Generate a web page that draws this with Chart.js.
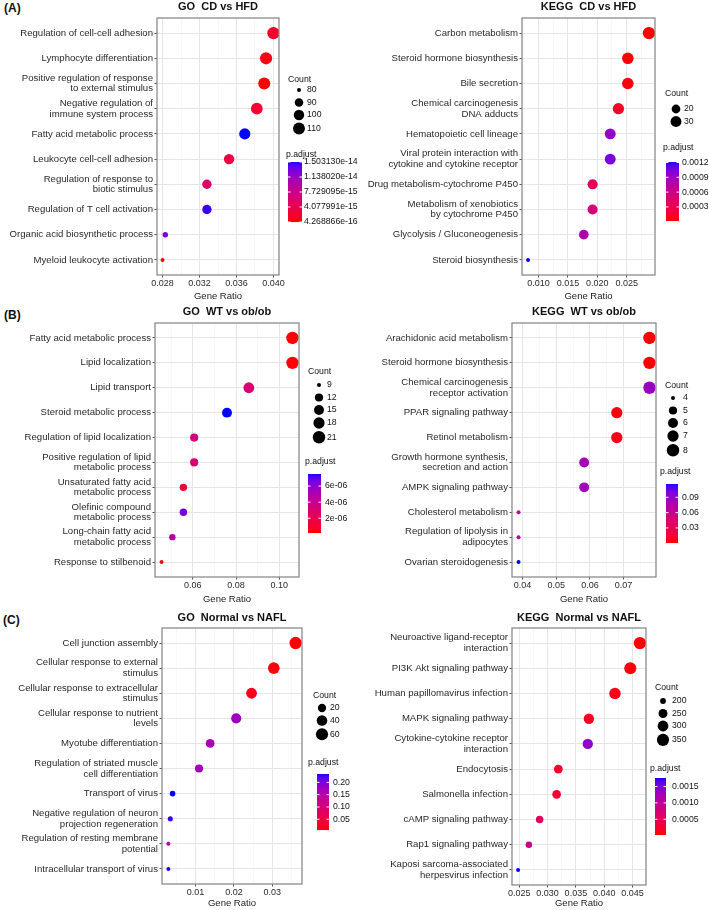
<!DOCTYPE html>
<html>
<head>
<meta charset="utf-8">
<title>GO / KEGG dot plots</title>
<script src="https://cdn.jsdelivr.net/npm/chart.js@4.4.1/dist/chart.umd.min.js"></script>
<style>
    html, body { margin: 0; padding: 0; background: #fff; }
    #page { position: relative; width: 709px; height: 910px; overflow: hidden; font-family: 'Liberation Sans', Arial, sans-serif; }
    #page canvas { position: absolute; }
    .tag { position: absolute; font-weight: bold; font-size: 12px; line-height: 14px; color: #111; }
</style>
</head>
<body>
<div id="page">
    <div class="tag" style="left:4px;top:1px">(A)</div>
    <div class="tag" style="left:4px;top:308px">(B)</div>
    <div class="tag" style="left:3px;top:613px">(C)</div>
    <canvas id="aGo" width="368" height="303" style="left:0;top:0"></canvas>
    <canvas id="aKegg" width="355" height="303" style="left:354px;top:0"></canvas>
    <canvas id="bGo" width="368" height="302" style="left:0;top:303px"></canvas>
    <canvas id="bKegg" width="355" height="302" style="left:354px;top:303px"></canvas>
    <canvas id="cGo" width="368" height="305" style="left:0;top:605px"></canvas>
    <canvas id="cKegg" width="355" height="305" style="left:354px;top:605px"></canvas>
</div>
<script>
// ---- Data ----

// (A) GO  CD vs HFD
const aGoTerms = ['Regulation of cell-cell adhesion', 'Lymphocyte differentiation',
    ['Positive regulation of response', 'to external stimulus'], ['Negative regulation of', 'immune system process'],
    'Fatty acid metabolic process', 'Leukocyte cell-cell adhesion', ['Regulation of response to', 'biotic stimulus'],
    'Regulation of T cell activation', 'Organic acid biosynthetic process', 'Myeloid leukocyte activation'];
const aGoRatio = [0.0400, 0.0392, 0.0390, 0.0382, 0.0369, 0.0352, 0.0328, 0.0328, 0.0283, 0.0280];
const aGoCount = [114, 112, 111, 109, 105, 100, 94, 94, 81, 80];
const aGoPadj = [2.0e-15, 1.0e-15, 4.268866e-16, 2.6e-15, 1.503130e-14, 3.4e-15, 5.6e-15, 1.46e-14, 1.28e-14, 5.5e-16];
const aGoCountBreaks = [80, 90, 100, 110];
const aGoPadjBreaks = [1.503130e-14, 1.138020e-14, 7.729095e-15, 4.077991e-15, 4.268866e-16];
const aGoPadjLabels = ['1.503130e-14', '1.138020e-14', '7.729095e-15', '4.077991e-15', '4.268866e-16'];
const aGoXTicks = [0.028, 0.032, 0.036, 0.040];
const aGoXLabels = ['0.028', '0.032', '0.036', '0.040'];

// (A) KEGG  CD vs HFD
const aKeggTerms = ['Carbon metabolism', 'Steroid hormone biosynthesis', 'Bile secretion',
    ['Chemical carcinogenesis', 'DNA adducts'], 'Hematopoietic cell lineage',
    ['Viral protein interaction with', 'cytokine and cytokine receptor'], 'Drug metabolism-cytochrome P450',
    ['Metabolism of xenobiotics', 'by cytochrome P450'], 'Glycolysis / Gluconeogenesis', 'Steroid biosynthesis'];
const aKeggRatio = [0.0288, 0.0252, 0.0252, 0.0236, 0.0222, 0.0222, 0.0192, 0.0192, 0.0177, 0.0082];
const aKeggCount = [39, 34, 34, 32, 30, 30, 26, 26, 24, 11];
const aKeggPadj = [1.5e-5, 3.0e-5, 4.5e-5, 1.2e-4, 9.4e-4, 1.04e-3, 3.8e-4, 5.2e-4, 8.0e-4, 1.21e-3];
const aKeggCountBreaks = [20, 30];
const aKeggPadjBreaks = [0.0012, 0.0009, 0.0006, 0.0003];
const aKeggPadjLabels = ['0.0012', '0.0009', '0.0006', '0.0003'];
const aKeggXTicks = [0.010, 0.015, 0.020, 0.025];
const aKeggXLabels = ['0.010', '0.015', '0.020', '0.025'];

// (B) GO  WT vs ob/ob
const bGoTerms = ['Fatty acid metabolic process', 'Lipid localization', 'Lipid transport',
    'Steroid metabolic process', 'Regulation of lipid localization',
    ['Positive regulation of lipid', 'metabolic process'], ['Unsaturated fatty acid', 'metabolic process'],
    ['Olefinic compound', 'metabolic process'], ['Long-chain fatty acid', 'metabolic process'],
    'Response to stilbenoid'];
const bGoRatio = [0.1061, 0.1061, 0.0859, 0.0758, 0.0606, 0.0606, 0.0556, 0.0556, 0.0505, 0.0455];
const bGoCount = [21, 21, 17, 15, 12, 12, 11, 11, 10, 9];
const bGoPadj = [1.7e-7, 3.0e-7, 3.1e-6, 7.5e-6, 3.3e-6, 3.1e-6, 1.3e-6, 6.6e-6, 4.6e-6, 4.0e-7];
const bGoCountBreaks = [9, 12, 15, 18, 21];
const bGoPadjBreaks = [6e-6, 4e-6, 2e-6];
const bGoPadjLabels = ['6e-06', '4e-06', '2e-06'];
const bGoXTicks = [0.06, 0.08, 0.10];
const bGoXLabels = ['0.06', '0.08', '0.10'];

// (B) KEGG  WT vs ob/ob
const bKeggTerms = ['Arachidonic acid metabolism', 'Steroid hormone biosynthesis',
    ['Chemical carcinogenesis', 'receptor activation'], 'PPAR signaling pathway', 'Retinol metabolism',
    ['Growth hormone synthesis,', 'secretion and action'], 'AMPK signaling pathway', 'Cholesterol metabolism',
    ['Regulation of lipolysis in', 'adipocytes'], 'Ovarian steroidogenesis'];
const bKeggRatio = [0.0777, 0.0777, 0.0777, 0.0680, 0.0680, 0.0583, 0.0583, 0.0388, 0.0388, 0.0388];
const bKeggCount = [8, 8, 8, 7, 7, 6, 6, 4, 4, 4];
const bKeggPadj = [5e-4, 1.2e-3, 0.088, 0.004, 0.006, 0.082, 0.084, 0.068, 0.070, 0.116];
const bKeggCountBreaks = [4, 5, 6, 7, 8];
const bKeggPadjBreaks = [0.09, 0.06, 0.03];
const bKeggPadjLabels = ['0.09', '0.06', '0.03'];
const bKeggXTicks = [0.04, 0.05, 0.06, 0.07];
const bKeggXLabels = ['0.04', '0.05', '0.06', '0.07'];

// (C) GO  Normal vs NAFL
const cGoTerms = ['Cell junction assembly', ['Cellular response to external', 'stimulus'],
    ['Cellular response to extracellular', 'stimulus'], ['Cellular response to nutrient', 'levels'],
    'Myotube differentiation', ['Regulation of striated muscle', 'cell differentiation'], 'Transport of virus',
    ['Negative regulation of neuron', 'projection regeneration'], ['Regulation of resting membrane', 'potential'],
    'Intracellular transport of virus'];
const cGoRatio = [0.0361, 0.0304, 0.0246, 0.0206, 0.0138, 0.0109, 0.0040, 0.0034, 0.0029, 0.0029];
const cGoCount = [63, 53, 43, 36, 24, 19, 7, 6, 5, 5];
const cGoPadj = [0.0064, 0.011, 0.018, 0.172, 0.165, 0.168, 0.234, 0.228, 0.162, 0.233];
const cGoCountBreaks = [20, 40, 60];
const cGoPadjBreaks = [0.20, 0.15, 0.10, 0.05];
const cGoPadjLabels = ['0.20', '0.15', '0.10', '0.05'];
const cGoXTicks = [0.01, 0.02, 0.03];
const cGoXLabels = ['0.01', '0.02', '0.03'];

// (C) KEGG  Normal vs NAFL
const cKeggTerms = [['Neuroactive ligand-receptor', 'interaction'], 'PI3K Akt signaling pathway',
    'Human papillomavirus infection', 'MAPK signaling pathway', ['Cytokine-cytokine receptor', 'interaction'],
    'Endocytosis', 'Salmonella infection', 'cAMP signaling pathway', 'Rap1 signaling pathway',
    ['Kaposi sarcoma-associated', 'herpesvirus infection']];
const cKeggRatio = [0.0463, 0.0446, 0.0419, 0.0373, 0.0371, 0.0319, 0.0316, 0.0286, 0.0267, 0.0248];
const cKeggCount = [359, 346, 325, 289, 287, 247, 245, 222, 207, 192];
const cKeggPadj = [2e-5, 5e-5, 1.0e-4, 1.6e-4, 1.4e-3, 1.9e-4, 2.3e-4, 5.5e-4, 8.6e-4, 1.76e-3];
const cKeggCountBreaks = [200, 250, 300, 350];
const cKeggPadjBreaks = [0.0015, 0.0010, 0.0005];
const cKeggPadjLabels = ['0.0015', '0.0010', '0.0005'];
const cKeggXTicks = [0.025, 0.030, 0.035, 0.040, 0.045];
const cKeggXLabels = ['0.025', '0.030', '0.035', '0.040', '0.045'];

// ---- Helpers ----
const FONT = "'Liberation Sans', Arial, sans-serif";
const R_MIN = 2.0, R_MAX = 6.2;

// red -> blue ramp interpolated in CIE Lab (like ggplot's gradient)
function toLab([r, g, b]) {
    const lin = c => { c /= 255; return c <= 0.04045 ? c / 12.92 : Math.pow((c + 0.055) / 1.055, 2.4); };
    const R = lin(r), G = lin(g), B = lin(b);
    const X = (0.4124564 * R + 0.3575761 * G + 0.1804375 * B) / 0.95047;
    const Y = 0.2126729 * R + 0.7151522 * G + 0.0721750 * B;
    const Z = (0.0193339 * R + 0.1191920 * G + 0.9503041 * B) / 1.08883;
    const f = t => t > 0.008856 ? Math.cbrt(t) : 7.787 * t + 16 / 116;
    const fx = f(X), fy = f(Y), fz = f(Z);
    return [116 * fy - 16, 500 * (fx - fy), 200 * (fy - fz)];
}
function fromLab([L, a, b]) {
    const fy = (L + 16) / 116, fx = fy + a / 500, fz = fy - b / 200;
    const finv = t => (t * t * t > 0.008856 ? t * t * t : (t - 16 / 116) / 7.787);
    const X = finv(fx) * 0.95047, Y = finv(fy), Z = finv(fz) * 1.08883;
    const R = 3.2404542 * X - 1.5371385 * Y - 0.4985314 * Z;
    const G = -0.9692660 * X + 1.8760108 * Y + 0.0415560 * Z;
    const B = 0.0556434 * X - 0.2040259 * Y + 1.0572252 * Z;
    const gam = c => {
        c = Math.max(0, Math.min(1, c));
        return Math.round(255 * (c <= 0.0031308 ? 12.92 * c : 1.055 * Math.pow(c, 1 / 2.4) - 0.055));
    };
    return [gam(R), gam(G), gam(B)];
}
const LAB_LOW = toLab([255, 0, 0]);
const LAB_HIGH = toLab([0, 0, 255]);

function padjColor(v, lo, hi) {
    const t = hi > lo ? Math.min(1, Math.max(0, (v - lo) / (hi - lo))) : 0;
    const [r, g, b] = fromLab(LAB_LOW.map((c, i) => c + (LAB_HIGH[i] - c) * t));
    return `rgb(${r},${g},${b})`;
}

// area scale for Count
function countRadius(n, lo, hi) {
    const t = hi > lo ? Math.min(1, Math.max(0, (n - lo) / (hi - lo))) : 1;
    return R_MIN + (R_MAX - R_MIN) * Math.sqrt(t);
}

// ---- One panel ----
function makePanel(id, p, L) {
    const n = p.terms.length;
    const xlo = Math.min(...p.ratio), xhi = Math.max(...p.ratio);
    const xmin = xlo - (xhi - xlo) * 0.05;
    const xmax = xhi + (xhi - xlo) * 0.05;
    const clo = Math.min(...p.count), chi = Math.max(...p.count);
    const plo = Math.min(...p.padj), phi = Math.max(...p.padj);

    // major ticks with labels + minor grid lines half way
    const step = p.xTicks[1] - p.xTicks[0];
    const xTickList = p.xTicks.map((v, i) => ({ value: v, text: p.xLabels[i] }));
    for (let i = -1; i < p.xTicks.length; i++) {
        const v = p.xTicks[0] + step * (i + 0.5);
        if (v > xmin && v < xmax) xTickList.push({ value: v, minor: true });
    }

    const points = p.terms.map((t, i) => ({ x: p.ratio[i], y: i, r: countRadius(p.count[i], clo, chi) }));
    const colors = p.padj.map(v => padjColor(v, plo, phi));

    const xTitleLh = 9.5 * 1.2;
    const decor = {
        id: 'decor_' + id,
        afterDatasetsDraw(chart) {
            const { ctx, chartArea: a } = chart;
            ctx.save();
            ctx.strokeStyle = '#8c8c8c';
            ctx.lineWidth = 1.3;
            ctx.strokeRect(a.left, a.top, a.right - a.left, a.bottom - a.top);
            ctx.restore();
        },
        afterDraw(chart) {
            const ctx = chart.ctx;
            const lg = L.legend;
            ctx.save();
            ctx.font = `8.7px ${FONT}`;
            ctx.textBaseline = 'middle';
            ctx.textAlign = 'left';
            ctx.fillStyle = '#111';
            ctx.fillText('Count', lg.x, lg.countY);

            // size keys
            let y = lg.firstKeyY;
            p.countBreaks.forEach((c, i) => {
                const r = countRadius(c, clo, chi);
                if (i > 0) {
                    const rp = countRadius(p.countBreaks[i - 1], clo, chi);
                    y += Math.max(12.5, r + rp + 2.4);
                }
                ctx.beginPath();
                ctx.arc(lg.keyX, y, r, 0, Math.PI * 2);
                ctx.fillStyle = '#000';
                ctx.fill();
                ctx.fillStyle = '#111';
                ctx.fillText(String(c), lg.labelX, y);
            });

            // colour bar
            ctx.fillText('p.adjust', lg.pTitleX, lg.pTitleY);
            for (let k = 0; k < lg.barH; k++) {
                const v = phi - (phi - plo) * (k + 0.5) / lg.barH;
                ctx.fillStyle = padjColor(v, plo, phi);
                ctx.fillRect(lg.barX, lg.barTop + k, lg.barW, 1.05);
            }
            p.padjBreaks.forEach((v, i) => {
                const yy = lg.barTop + (phi - v) / (phi - plo) * lg.barH;
                ctx.strokeStyle = '#fff';
                ctx.lineWidth = 1;
                ctx.beginPath();
                ctx.moveTo(lg.barX, yy); ctx.lineTo(lg.barX + 2.5, yy);
                ctx.moveTo(lg.barX + lg.barW - 2.5, yy); ctx.lineTo(lg.barX + lg.barW, yy);
                ctx.stroke();
                ctx.fillStyle = '#111';
                ctx.fillText(p.padjLabels[i], lg.barLabelX, yy);
            });
            ctx.restore();
        }
    };

    return new Chart(document.getElementById(id), {
        type: 'bubble',
        data: {
            datasets: [{
                data: points,
                backgroundColor: colors,
                borderWidth: 0,
                hoverRadius: 0,
                hoverBorderWidth: 0
            }]
        },
        options: {
            responsive: false,
            animation: false,
            events: [],
            layout: { padding: { left: 0, top: 0, right: L.w - L.box.r, bottom: 0 } },
            plugins: {
                legend: { display: false },
                tooltip: { enabled: false },
                title: {
                    display: true,
                    text: p.title,
                    fullSize: false,
                    color: '#111',
                    font: { family: FONT, size: 11, weight: 'bold', lineHeight: 1.2 },
                    padding: { top: L.titleY - 6.6, bottom: L.box.t - L.titleY - 6.6 }
                }
            },
            scales: {
                x: {
                    type: 'linear',
                    min: xmin,
                    max: xmax,
                    afterBuildTicks: s => { s.ticks = xTickList.map(t => Object.assign({}, t)); },
                    afterFit: s => { s.height = L.h - L.box.b; },
                    border: { display: false },
                    grid: {
                        color: ctx => (ctx.tick && ctx.tick.minor ? '#f3f3f3' : '#e6e6e6'),
                        lineWidth: ctx => (ctx.tick && ctx.tick.minor ? 0.6 : 1),
                        tickLength: 2.5,
                        tickColor: ctx => (ctx.tick && ctx.tick.minor ? 'rgba(0,0,0,0)' : '#555'),
                        tickWidth: 1
                    },
                    ticks: {
                        autoSkip: false,
                        maxRotation: 0,
                        padding: 1,
                        color: '#2a2a2a',
                        font: { family: FONT, size: 9, lineHeight: 1.2 },
                        callback: (v, i, tk) => tk[i].text || ''
                    },
                    title: {
                        display: true,
                        text: 'Gene Ratio',
                        color: '#222',
                        font: { family: FONT, size: 9.5, lineHeight: 1.2 },
                        padding: { top: 0, bottom: Math.max(0, L.h - L.xTitleY - xTitleLh / 2) }
                    }
                },
                y: {
                    type: 'linear',
                    reverse: true,
                    min: -0.6,
                    max: n - 0.4,
                    afterBuildTicks: s => { s.ticks = p.terms.map((t, i) => ({ value: i })); },
                    afterFit: s => { s.width = L.box.l; },
                    border: { display: false },
                    grid: { color: '#e6e6e6', lineWidth: 1, tickLength: 2.5, tickColor: '#555', tickWidth: 1 },
                    ticks: {
                        autoSkip: false,
                        padding: 1.5,
                        color: '#2a2a2a',
                        font: { family: FONT, size: 9.6, lineHeight: 1.11 },
                        callback: v => p.terms[v]
                    }
                }
            }
        },
        plugins: [decor]
    });
}

// ---- Build the six panels ----
makePanel('aGo', {
    title: 'GO  CD vs HFD', terms: aGoTerms, ratio: aGoRatio, count: aGoCount, padj: aGoPadj,
    countBreaks: aGoCountBreaks, padjBreaks: aGoPadjBreaks, padjLabels: aGoPadjLabels,
    xTicks: aGoXTicks, xLabels: aGoXLabels
}, {
    w: 368, h: 303, box: { l: 157, r: 279, t: 18, b: 275 }, titleY: 7, xTitleY: 296,
    legend: { x: 288, countY: 80, keyX: 299, firstKeyY: 90, labelX: 307, pTitleX: 286, pTitleY: 155,
              barX: 288, barW: 14, barTop: 162, barH: 60, barLabelX: 304 }
});

makePanel('aKegg', {
    title: 'KEGG  CD vs HFD', terms: aKeggTerms, ratio: aKeggRatio, count: aKeggCount, padj: aKeggPadj,
    countBreaks: aKeggCountBreaks, padjBreaks: aKeggPadjBreaks, padjLabels: aKeggPadjLabels,
    xTicks: aKeggXTicks, xLabels: aKeggXLabels
}, {
    w: 355, h: 303, box: { l: 168, r: 301, t: 18, b: 275 }, titleY: 7, xTitleY: 296,
    legend: { x: 311, countY: 94, keyX: 322, firstKeyY: 109, labelX: 330, pTitleX: 309, pTitleY: 148,
              barX: 312, barW: 13, barTop: 162, barH: 59, barLabelX: 328 }
});

makePanel('bGo', {
    title: 'GO  WT vs ob/ob', terms: bGoTerms, ratio: bGoRatio, count: bGoCount, padj: bGoPadj,
    countBreaks: bGoCountBreaks, padjBreaks: bGoPadjBreaks, padjLabels: bGoPadjLabels,
    xTicks: bGoXTicks, xLabels: bGoXLabels
}, {
    w: 368, h: 302, box: { l: 155, r: 299, t: 20, b: 274 }, titleY: 9, xTitleY: 296,
    legend: { x: 308, countY: 69, keyX: 319, firstKeyY: 82, labelX: 327, pTitleX: 305, pTitleY: 159,
              barX: 308, barW: 13, barTop: 171, barH: 59, barLabelX: 325 }
});

makePanel('bKegg', {
    title: 'KEGG  WT vs ob/ob', terms: bKeggTerms, ratio: bKeggRatio, count: bKeggCount, padj: bKeggPadj,
    countBreaks: bKeggCountBreaks, padjBreaks: bKeggPadjBreaks, padjLabels: bKeggPadjLabels,
    xTicks: bKeggXTicks, xLabels: bKeggXLabels
}, {
    w: 355, h: 302, box: { l: 158, r: 302, t: 20, b: 274 }, titleY: 9, xTitleY: 296,
    legend: { x: 311, countY: 83, keyX: 319, firstKeyY: 95, labelX: 329, pTitleX: 306, pTitleY: 169,
              barX: 312, barW: 12, barTop: 181, barH: 59, barLabelX: 328 }
});

makePanel('cGo', {
    title: 'GO  Normal vs NAFL', terms: cGoTerms, ratio: cGoRatio, count: cGoCount, padj: cGoPadj,
    countBreaks: cGoCountBreaks, padjBreaks: cGoPadjBreaks, padjLabels: cGoPadjLabels,
    xTicks: cGoXTicks, xLabels: cGoXLabels
}, {
    w: 368, h: 305, box: { l: 162, r: 302, t: 23, b: 279 }, titleY: 13, xTitleY: 298,
    legend: { x: 313, countY: 91, keyX: 322, firstKeyY: 103, labelX: 330, pTitleX: 308, pTitleY: 158,
              barX: 317, barW: 12, barTop: 169, barH: 56, barLabelX: 333 }
});

makePanel('cKegg', {
    title: 'KEGG  Normal vs NAFL', terms: cKeggTerms, ratio: cKeggRatio, count: cKeggCount, padj: cKeggPadj,
    countBreaks: cKeggCountBreaks, padjBreaks: cKeggPadjBreaks, padjLabels: cKeggPadjLabels,
    xTicks: cKeggXTicks, xLabels: cKeggXLabels
}, {
    w: 355, h: 305, box: { l: 158, r: 292, t: 23, b: 280 }, titleY: 13, xTitleY: 298,
    legend: { x: 301, countY: 83, keyX: 309, firstKeyY: 96, labelX: 318, pTitleX: 296, pTitleY: 164,
              barX: 301, barW: 11, barTop: 173, barH: 57, barLabelX: 318 }
});
</script>
</body>
</html>
